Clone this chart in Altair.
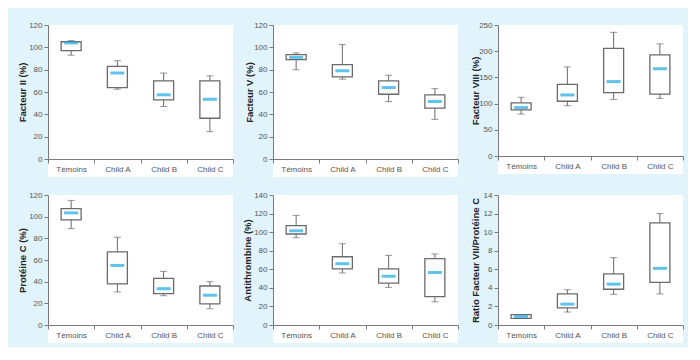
import altair as alt
import pandas as pd

cats = ["Témoins", "Child A", "Child B", "Child C"]

# Facteur II (%)
f2_min = [93, 62.5, 47, 24.5]
f2_q1 = [97, 64, 53, 36.5]
f2_med = [104, 77, 57.5, 53.5]
f2_q3 = [105, 83, 70, 70]
f2_max = [106, 88, 77, 74.5]

# Facteur V (%)
f5_min = [80, 71.5, 51.5, 35.5]
f5_q1 = [89, 73.5, 58, 45.5]
f5_med = [91, 79, 64, 51.5]
f5_q3 = [93.5, 84.5, 70, 57.5]
f5_max = [95, 102.5, 75, 63]

# Facteur VIII (%)
f8_min = [80, 96, 108, 110]
f8_q1 = [88, 104.5, 121, 118]
f8_med = [92.5, 116.5, 142, 166.5]
f8_q3 = [101.5, 136.5, 205.5, 193]
f8_max = [112, 170, 236, 214]

# Protéine C (%)
pc_min = [89, 30.5, 27, 15]
pc_q1 = [97, 38, 29, 19.5]
pc_med = [103.5, 55, 33.5, 27.5]
pc_q3 = [107.5, 67.5, 43, 36]
pc_max = [115, 81, 49.5, 40]

# Antithrombine (%)
at_min = [94, 56, 40.5, 25]
at_q1 = [98, 60.5, 45, 30.5]
at_med = [101.5, 66, 52.5, 56.5]
at_q3 = [107, 73.5, 60.5, 71.5]
at_max = [118, 87.5, 75, 76.5]

# Ratio Facteur VII/Protéine C
r_min = [0.72, 1.4, 3.3, 3.35]
r_q1 = [0.72, 1.85, 3.85, 4.6]
r_med = [0.92, 2.25, 4.4, 6.1]
r_q3 = [1.12, 3.35, 5.5, 11.0]
r_max = [1.12, 3.8, 7.25, 12.0]

GRAY = "#6a6a6a"
BLUE = "#1ba9e3"
W = 185


def panel(title, mn, q1, med, q3, mx, dmax, step, h, tx):
    df = pd.DataFrame({"cat": cats, "min": mn, "q1": q1, "med": med, "q3": q3, "max": mx})
    xenc = alt.X("cat:N", sort=cats, title=None,
                 scale=alt.Scale(domain=cats, paddingInner=0, paddingOuter=0),
                 axis=alt.Axis(labelAngle=0, tickBand="extent", zindex=1))
    yscale = alt.Scale(domain=[0, dmax], nice=False)
    yaxis = alt.Axis(values=list(range(0, dmax + 1, step)), grid=False, zindex=1,
                     title=title, labelOverlap=False,
                     titleX=tx, titleY=h / 2, titleAngle=270,
                     titleAlign="center", titleBaseline="middle")

    def Y(field):
        return alt.Y(field, type="quantitative", scale=yscale, axis=yaxis)

    bg = alt.Chart(pd.DataFrame({"a": [0]})).mark_rect(fill="white").encode(
        x=alt.value(0), x2=alt.value(W), y=alt.value(0), y2=alt.value(h + 18))
    base = alt.Chart(df)
    rule = base.mark_rule(color=GRAY, strokeWidth=1).encode(x=xenc, y=Y("min"), y2="max:Q")
    lo = base.mark_tick(color=GRAY, size=7, thickness=1).encode(x=xenc, y=Y("min"))
    hi = base.mark_tick(color=GRAY, size=7, thickness=1).encode(x=xenc, y=Y("max"))
    box = base.mark_bar(size=20, fill="white", stroke=GRAY, strokeWidth=1.3).encode(
        x=xenc, y=Y("q1"), y2="q3:Q")
    md = base.mark_tick(color=BLUE, size=14, thickness=3).encode(x=xenc, y=Y("med"))
    return alt.layer(bg, rule, lo, hi, box, md).properties(width=W, height=h)


panels = [
    panel("Facteur II (%)", f2_min, f2_q1, f2_med, f2_q3, f2_max, 120, 20, 134, -26),
    panel("Facteur V (%)", f5_min, f5_q1, f5_med, f5_q3, f5_max, 120, 20, 134, -24),
    panel("Facteur VIII (%)", f8_min, f8_q1, f8_med, f8_q3, f8_max, 250, 50, 131, -23),
    panel("Protéine C (%)", pc_min, pc_q1, pc_med, pc_q3, pc_max, 120, 20, 130, -26),
    panel("Antithrombine (%)", at_min, at_q1, at_med, at_q3, at_max, 140, 20, 130, -26),
    panel("Ratio Facteur VII/Protéine C", r_min, r_q1, r_med, r_q3, r_max, 14, 2, 130, -23),
]

chart = alt.concat(*panels, columns=3, spacing={"row": 36, "column": 40}, bounds="flush").properties(
    padding={"left": 9, "top": 13, "right": 4, "bottom": 4},
    background="#e1f3fb",
).configure_view(stroke=None).configure_axis(
    labelFont="Liberation Sans", labelFontSize=8, labelColor="#555555",
    titleFont="Liberation Sans", titleFontSize=9.5, titleFontWeight="bold", titleColor="#222222",
    domainColor="#7a7a7a", tickColor="#7a7a7a", tickSize=4, labelPadding=2,
)

chart.save("out.html", embed_options={"renderer": "svg", "actions": False})
